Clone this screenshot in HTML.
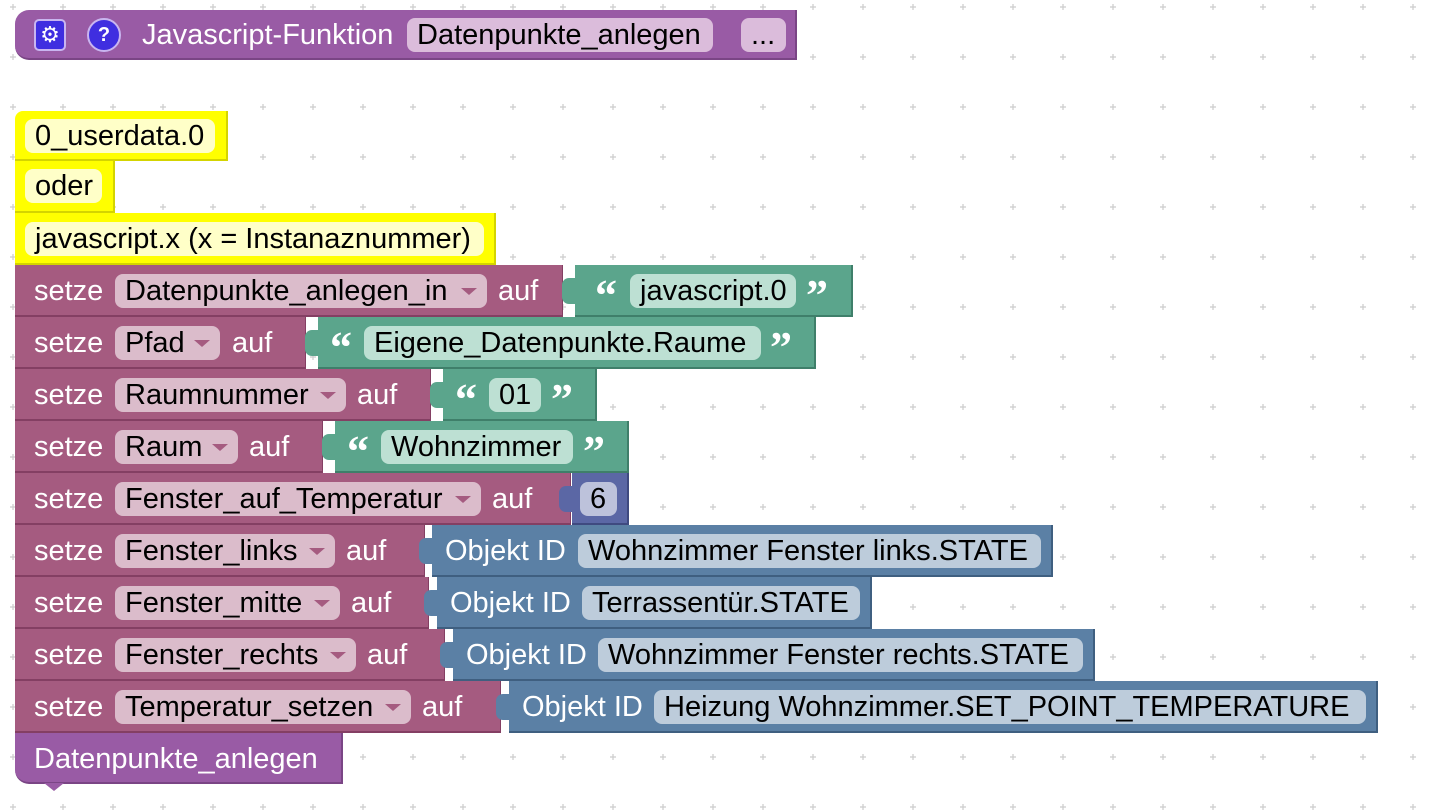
<!DOCTYPE html>
<html><head><meta charset="utf-8"><style>
body{margin:0;width:1442px;height:812px;overflow:hidden;background:#fff;font-family:"Liberation Sans",Arial,sans-serif;position:relative}
.a{position:absolute;box-sizing:border-box}
.t{position:absolute;font-size:29px;line-height:30px;white-space:nowrap}
.w{color:#fff}
.p{position:absolute;height:34px;border-radius:8px;font-size:29px;line-height:34px;padding-left:10px;box-sizing:border-box;color:#000;white-space:nowrap;overflow:hidden}
.pk{background:#dbbccb}
.gr{background:#bde0d3}
.bl{background:#bdccdb}
.nb{background:#bdc2db}
.dd::after{content:"";position:absolute;right:10px;top:14px;border-left:8px solid transparent;border-right:8px solid transparent;border-top:7px solid #a55b80}
.m{background:#a55b80;border-bottom:2px solid #843f63;border-right:1px solid #843f63}
.g{background:#5ba58c;border-bottom:2px solid #3f7f6a;border-right:2px solid #3f7f6a}
.b{background:#5b80a5;border-bottom:2px solid #3f5f80;border-right:2px solid #3f5f80}
.n{background:#5b67a5;border-bottom:2px solid #3f4a80;border-right:2px solid #3f4a80}
.y{background:#ffff00;border-bottom:2px solid #d4d400;border-right:2px solid #d4d400}
.yp{background:#ffffc8}
.q{position:absolute;color:#fff;font:bold 44px/40px "Liberation Serif",serif}
.tab{position:absolute;width:14px;height:26px;border-radius:7px 0 0 7px}
</style></head><body>
<svg class="a" style="left:0;top:0" width="1442" height="812"><defs><pattern id="d" x="13" y="7" width="50" height="50" patternUnits="userSpaceOnUse"><path d="M-3 0H3M0 -3V3M47 0H53M50 -3V3M-3 50H3M0 47V53M47 50H53M50 47V53" stroke="#ccc" stroke-width="1.2"/></pattern></defs><rect width="1442" height="812" fill="url(#d)"/></svg>

<div class="a" style="left:15px;top:10px;width:782px;height:50px;background:#995ba5;border-radius:14px 0 0 14px;border-bottom:2px solid #7a4585;border-right:2px solid #7a4585"></div>
<div class="a" style="left:34px;top:19px;width:32px;height:32px;background:#3f2ee0;border:2px solid #c9b5f0;border-radius:5px;color:#fff;font-size:22px;line-height:27px;text-align:center">⚙</div>
<div class="a" style="left:87px;top:18px;width:34px;height:34px;background:#3f2ee0;border:2px solid #c9b5f0;border-radius:50%;color:#fff;font:bold 20px/30px 'Liberation Sans',sans-serif;text-align:center">?</div>
<div class="t w" style="left:142px;top:20px">Javascript-Funktion</div>
<div class="p" style="left:407px;top:18px;width:306px;background:#dbbcdb">Datenpunkte_anlegen</div>
<div class="p" style="left:741px;top:18px;width:45px;background:#dbbcdb">...</div>

<div class="a y" style="left:15px;top:111px;width:213px;height:50px;border-radius:8px 0 0 0"></div>
<div class="p yp" style="left:25px;top:119px;width:190px">0_userdata.0</div>
<div class="a y" style="left:15px;top:161px;width:100px;height:52px"></div>
<div class="p yp" style="left:25px;top:169px;width:77px">oder</div>
<div class="a y" style="left:15px;top:213px;width:481px;height:52px"></div>
<div class="p yp" style="left:25px;top:222px;width:459px">javascript.x (x = Instanaznummer)</div>

<div class="a m" style="left:15px;top:265px;width:548px;height:52px"></div>
<div class="t w" style="left:34px;top:276px">setze</div>
<div class="p pk dd" style="left:115px;top:274px;width:372px">Datenpunkte_anlegen_in</div>
<div class="t w" style="left:498px;top:276px">auf</div>
<div class="a g" style="left:575px;top:265px;width:278px;height:52px"></div>
<div class="tab" style="left:562px;top:278px;background:#5ba58c"></div>
<div class="q" style="left:595px;top:276px">“</div>
<div class="p gr" style="left:630px;top:274px;width:166px">javascript.0</div>
<div class="q" style="left:806px;top:276px">”</div>

<div class="a m" style="left:15px;top:317px;width:291px;height:52px"></div>
<div class="t w" style="left:34px;top:328px">setze</div>
<div class="p pk dd" style="left:115px;top:326px;width:105px">Pfad</div>
<div class="t w" style="left:232px;top:328px">auf</div>
<div class="a g" style="left:318px;top:317px;width:498px;height:52px"></div>
<div class="tab" style="left:305px;top:330px;background:#5ba58c"></div>
<div class="q" style="left:330px;top:328px">“</div>
<div class="p gr" style="left:364px;top:326px;width:397px">Eigene_Datenpunkte.Raume</div>
<div class="q" style="left:770px;top:328px">”</div>

<div class="a m" style="left:15px;top:369px;width:416px;height:52px"></div>
<div class="t w" style="left:34px;top:380px">setze</div>
<div class="p pk dd" style="left:115px;top:378px;width:231px">Raumnummer</div>
<div class="t w" style="left:357px;top:380px">auf</div>
<div class="a g" style="left:443px;top:369px;width:154px;height:52px"></div>
<div class="tab" style="left:430px;top:382px;background:#5ba58c"></div>
<div class="q" style="left:455px;top:380px">“</div>
<div class="p gr" style="left:489px;top:378px;width:52px">01</div>
<div class="q" style="left:551px;top:380px">”</div>

<div class="a m" style="left:15px;top:421px;width:308px;height:52px"></div>
<div class="t w" style="left:34px;top:432px">setze</div>
<div class="p pk dd" style="left:115px;top:430px;width:123px">Raum</div>
<div class="t w" style="left:249px;top:432px">auf</div>
<div class="a g" style="left:335px;top:421px;width:294px;height:52px"></div>
<div class="tab" style="left:322px;top:434px;background:#5ba58c"></div>
<div class="q" style="left:347px;top:432px">“</div>
<div class="p gr" style="left:381px;top:430px;width:192px">Wohnzimmer</div>
<div class="q" style="left:583px;top:432px">”</div>

<div class="a m" style="left:15px;top:473px;width:556px;height:52px"></div>
<div class="t w" style="left:34px;top:484px">setze</div>
<div class="p pk dd" style="left:115px;top:482px;width:366px">Fenster_auf_Temperatur</div>
<div class="t w" style="left:492px;top:484px">auf</div>
<div class="a n" style="left:572px;top:473px;width:57px;height:52px"></div>
<div class="tab" style="left:559px;top:486px;background:#5b67a5"></div>
<div class="p nb" style="left:580px;top:482px;width:37px">6</div>

<div class="a m" style="left:15px;top:525px;width:410px;height:52px"></div>
<div class="t w" style="left:34px;top:536px">setze</div>
<div class="p pk dd" style="left:115px;top:534px;width:220px">Fenster_links</div>
<div class="t w" style="left:346px;top:536px">auf</div>
<div class="a b" style="left:432px;top:525px;width:621px;height:52px"></div>
<div class="tab" style="left:419px;top:538px;background:#5b80a5"></div>
<div class="t w" style="left:445px;top:536px">Objekt ID</div>
<div class="p bl" style="left:578px;top:534px;width:463px">Wohnzimmer Fenster links.STATE</div>

<div class="a m" style="left:15px;top:577px;width:414px;height:52px"></div>
<div class="t w" style="left:34px;top:588px">setze</div>
<div class="p pk dd" style="left:115px;top:586px;width:225px">Fenster_mitte</div>
<div class="t w" style="left:351px;top:588px">auf</div>
<div class="a b" style="left:437px;top:577px;width:435px;height:52px"></div>
<div class="tab" style="left:424px;top:590px;background:#5b80a5"></div>
<div class="t w" style="left:450px;top:588px">Objekt ID</div>
<div class="p bl" style="left:582px;top:586px;width:278px">Terrassentür.STATE</div>

<div class="a m" style="left:15px;top:629px;width:430px;height:52px"></div>
<div class="t w" style="left:34px;top:640px">setze</div>
<div class="p pk dd" style="left:115px;top:638px;width:241px">Fenster_rechts</div>
<div class="t w" style="left:367px;top:640px">auf</div>
<div class="a b" style="left:453px;top:629px;width:642px;height:52px"></div>
<div class="tab" style="left:440px;top:642px;background:#5b80a5"></div>
<div class="t w" style="left:466px;top:640px">Objekt ID</div>
<div class="p bl" style="left:598px;top:638px;width:485px">Wohnzimmer Fenster rechts.STATE</div>

<div class="a m" style="left:15px;top:681px;width:486px;height:52px"></div>
<div class="t w" style="left:34px;top:692px">setze</div>
<div class="p pk dd" style="left:115px;top:690px;width:296px">Temperatur_setzen</div>
<div class="t w" style="left:422px;top:692px">auf</div>
<div class="a b" style="left:509px;top:681px;width:869px;height:52px"></div>
<div class="tab" style="left:496px;top:694px;background:#5b80a5"></div>
<div class="t w" style="left:522px;top:692px">Objekt ID</div>
<div class="p bl" style="left:654px;top:690px;width:712px">Heizung Wohnzimmer.SET_POINT_TEMPERATURE</div>

<div class="a" style="left:15px;top:733px;width:328px;height:51px;background:#995ba5;border-radius:0 0 0 14px;border-bottom:2px solid #7a4585;border-right:2px solid #7a4585"></div>
<div class="a" style="left:44px;top:783px;width:0;height:0;border-left:10px solid transparent;border-right:10px solid transparent;border-top:8px solid #995ba5"></div>
<div class="t w" style="left:34px;top:744px">Datenpunkte_anlegen</div>
</body></html>
